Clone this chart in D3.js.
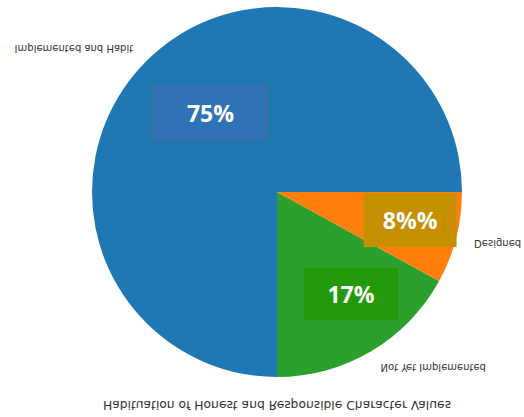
<!DOCTYPE html>
<html>
<head>
<meta charset="utf-8">
<script src="https://cdn.jsdelivr.net/npm/d3@7"></script>
<style>
  html, body { margin: 0; padding: 0; background: #ffffff; }
  svg { display: block; }
</style>
</head>
<body>
<svg id="chart" width="524" height="417"></svg>
<script>
// Slice data, in drawing order (counter-clockwise from 3 o'clock)
const categories = ["Implemented and Habit", "Not Yet Implemented", "Designed"];
const values = [75, 17, 8];
const colors = ["#1f77b4", "#2ca02c", "#ff7f0e"];
// Percentage tags placed over the slices
const tagTexts = ["75%", "17%", "8%%"];
const tagFills = ["#2f73b6", "#239a0b", "#c68f02"];
const title = "Habituation of Honest and Responsible Character Values";

const svg = d3.select("#chart");
const cx = 277, cy = 192, radius = 185;

// Angles: start at 3 o'clock and run counter-clockwise
const pie = d3.pie()
  .sort(null)
  .value(d => d)
  .startAngle(Math.PI / 2)
  .endAngle(Math.PI / 2 - 2 * Math.PI);

const arcs = pie(values);
const arc = d3.arc().innerRadius(0).outerRadius(radius);

const g = svg.append("g").attr("transform", `translate(${cx},${cy})`);

g.selectAll("path.slice")
  .data(arcs)
  .join("path")
  .attr("class", "slice")
  .attr("d", arc)
  .attr("fill", (d, i) => colors[i]);

// Outer category labels (text drawn mirrored top-to-bottom)
const labelArc = d3.arc().innerRadius(radius * 1.1).outerRadius(radius * 1.1);
g.selectAll("text.cat")
  .data(arcs)
  .join("text")
  .attr("class", "cat")
  .attr("transform", d => {
    const [x, y] = labelArc.centroid(d);
    return `translate(${x},${y}) scale(1,-1)`;
  })
  .attr("text-anchor", d => labelArc.centroid(d)[0] < 0 ? "end" : "start")
  .attr("dominant-baseline", "middle")
  .attr("font-family", "DejaVu Sans, sans-serif")
  .attr("font-size", 10)
  .attr("fill", "#333")
  .text((d, i) => categories[i]);

// Percentage tags: coloured boxes with bold white text,
// placed along each slice's bisector (with a small angular nudge)
const tagArcR = [0.56, 0.68, 0.735];
const tagNudge = [5, -5.4, -2.5];
const tagSize = [[114, 54], [94, 52], [93, 54]];
arcs.forEach((d, i) => {
  const a = (d.startAngle + d.endAngle) / 2 + tagNudge[i] * Math.PI / 180;
  const r = radius * tagArcR[i];
  const x = Math.sin(a) * r, y = -Math.cos(a) * r;
  const [w, h] = tagSize[i];
  const tg = g.append("g").attr("transform", `translate(${x},${y})`);
  tg.append("rect")
    .attr("x", -w / 2).attr("y", -h / 2)
    .attr("width", w).attr("height", h)
    .attr("fill", tagFills[i])
    .attr("stroke", i === 0 ? "#4a6d98" : "none")
    .attr("stroke-width", 1.5);
  tg.append("text")
    .attr("text-anchor", "middle")
    .attr("dominant-baseline", "central")
    .attr("font-family", "Open Sans, DejaVu Sans, sans-serif")
    .attr("font-weight", "bold")
    .attr("font-size", 23)
    .attr("fill", "#ffffff")
    .text(tagTexts[i]);
});

// Title under the pie (mirrored top-to-bottom as well)
svg.append("text")
  .attr("transform", `translate(${cx},404) scale(1,-1)`)
  .attr("text-anchor", "middle")
  .attr("dominant-baseline", "middle")
  .attr("font-family", "DejaVu Sans, sans-serif")
  .attr("font-size", 12.3)
  .attr("fill", "#333")
  .text(title);
</script>
</body>
</html>
